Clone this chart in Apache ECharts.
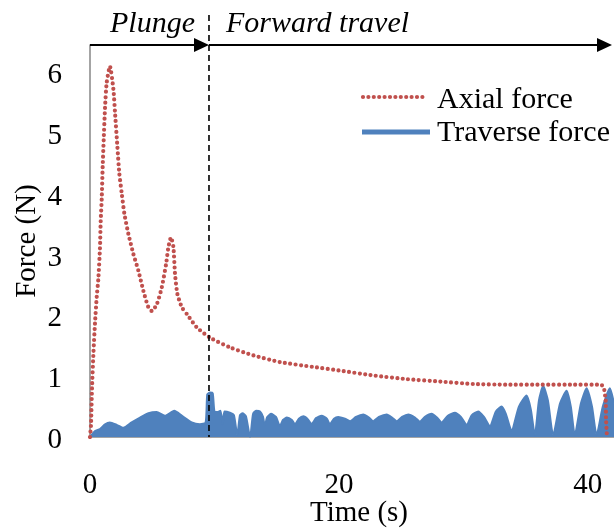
<!DOCTYPE html>
<html>
<head>
<meta charset="utf-8">
<script src="https://cdn.jsdelivr.net/npm/echarts@6/dist/echarts.min.js"></script>
<style>
  html, body { margin: 0; padding: 0; background: #ffffff; }
  #chart { width: 614px; height: 530px; }
</style>
</head>
<body>
<div id="chart"></div>
<script>
// Axial force (N) against time (s)
const axialTime = [0, 0.08, 0.16, 0.28, 0.41, 0.54, 0.67, 0.8, 0.86, 0.94, 1.02, 1.1, 1.21, 1.34, 1.6,
  1.88, 2.01, 2.2, 2.35, 2.55, 2.76, 3.08, 3.48, 3.89, 4.29, 4.69, 4.96, 5.37, 5.77, 6.12, 6.3, 6.51,
  6.7, 6.83, 7.02, 7.38, 7.78, 8.58, 9.66, 11.26, 13.14, 15.28, 17.96, 20.11, 22.79, 25.48, 28.16,
  30.84, 33.53, 36.2, 38.88, 41.03, 41.27, 41.43, 41.46, 41.52];
const axialForce = [0, 0.2, 0.8, 1.4, 1.9, 2.3, 2.6, 3.1, 3.55, 3.9, 4.45, 4.88, 5.42, 5.82, 6.09,
  5.71, 5.33, 4.77, 4.34, 4.0, 3.67, 3.34, 3.01, 2.73, 2.4, 2.13, 2.07, 2.18, 2.46, 2.85, 3.12, 3.28,
  3.12, 2.68, 2.35, 2.13, 2.02, 1.8, 1.63, 1.47, 1.34, 1.23, 1.15, 1.09, 1.01, 0.95, 0.91,
  0.87, 0.86, 0.86, 0.86, 0.86, 0.82, 0.6, 0.3, 0.05];

// Traverse force (N) against time (s)
const traverseTime = [0, 0.41, 0.8, 1.21, 1.6, 2.15, 2.68, 3.35, 4.02, 4.69, 5.35, 6.02, 6.77, 7.37,
  8.17, 8.83, 9.29, 9.42, 9.64, 9.86, 10.0, 10.28, 10.48, 10.66, 10.8, 11.24, 11.56, 11.83, 12.05,
  12.25, 12.53, 12.86, 13.1, 13.34, 13.66, 13.9, 14.05, 14.22, 14.54, 14.94, 15.26, 15.5, 15.82,
  16.22, 16.47, 16.78, 17.14, 17.51, 17.8, 18.16, 18.61, 19.03, 19.27, 19.6, 19.94, 20.48, 20.89,
  21.37, 21.95, 22.41, 22.75, 23.21, 23.84, 24.26, 24.64, 25.07, 25.57, 26.11, 26.5, 26.91, 27.45,
  27.88, 28.25, 28.75, 29.32, 29.8, 30.26, 30.68, 31.19, 31.65, 32.13, 32.61, 33.07, 33.41, 33.87,
  34.46, 35.08, 35.42, 35.74, 36.07, 36.41, 36.79, 37.21, 37.76, 38.29, 38.63, 38.95, 39.44, 39.9,
  40.33, 40.7, 41.2, 41.77, 42.1];
const traverseForce = [0, 0.1, 0.13, 0.21, 0.24, 0.2, 0.15, 0.24, 0.32, 0.39, 0.41, 0.35, 0.43, 0.35,
  0.24, 0.21, 0.24, 0.7, 0.73, 0.72, 0.42, 0.41, 0.43, 0.21, 0.42, 0.4, 0.36, 0.03, 0.36,
  0.39, 0.34, 0.0, 0.38, 0.43, 0.42, 0.33, 0.18, 0.32, 0.38, 0.33, 0.18, 0.28, 0.32,
  0.28, 0.21, 0.3, 0.34, 0.29, 0.21, 0.31, 0.35, 0.3, 0.21, 0.3, 0.33, 0.3, 0.26,
  0.33, 0.37, 0.32, 0.26, 0.33, 0.37, 0.32, 0.26, 0.33, 0.37, 0.32, 0.25, 0.33, 0.38,
  0.32, 0.24, 0.35, 0.4, 0.33, 0.2, 0.36, 0.42, 0.33, 0.18, 0.42, 0.5, 0.38, 0.1,
  0.5, 0.68, 0.45, 0.03, 0.6, 0.84, 0.6, 0.03, 0.55, 0.76, 0.5, 0.03, 0.55, 0.8,
  0.5, 0.03, 0.5, 0.8, 0.55];

const seriesNames = ['Axial force', 'Traverse force'];
const phaseNames = ['Plunge', 'Forward travel'];
const plungeEnd = 9.56;          // end of the plunge phase (s)
const xMin = 0, xMax = 42.1, xStep = 20;
const yMin = 0, yMax = 6.44, yStep = 1;

const RED = '#C0504D';
const BLUE = '#4F81BD';
const FONT = "'Liberation Serif', 'Times New Roman', serif";

const pairs = (xs, ys) => xs.map((x, i) => [x, ys[i]]);

const chart = echarts.init(document.getElementById('chart'), null, { renderer: 'canvas' });

chart.setOption({
  animation: false,
  backgroundColor: '#ffffff',
  grid: { left: 90, right: 0, top: 45, bottom: 93, outerBoundsMode: 'none', containLabel: false },
  xAxis: {
    type: 'value', min: xMin, max: xMax, interval: xStep,
    name: 'Time (s)', nameLocation: 'middle', nameGap: 62, nameMoveOverlap: false,
    nameTextStyle: { fontFamily: FONT, fontSize: 29, color: '#000', padding: [0, 0, 0, 14] },
    axisLine: { show: true, lineStyle: { color: '#868686', width: 1.5 } },
    axisTick: { show: false },
    splitLine: { show: false },
    axisLabel: { fontFamily: FONT, fontSize: 29, color: '#000', margin: 34, showMaxLabel: false }
  },
  yAxis: {
    type: 'value', min: yMin, max: yMax, interval: yStep,
    name: 'Force (N)', nameLocation: 'middle', nameGap: 48, nameMoveOverlap: false,
    nameTextStyle: { fontFamily: FONT, fontSize: 29, color: '#000' },
    axisLine: { show: true, lineStyle: { color: '#868686', width: 1.5 } },
    axisTick: { show: false },
    splitLine: { show: false },
    axisLabel: { fontFamily: FONT, fontSize: 29, color: '#000', margin: 28, showMaxLabel: false,
                 verticalAlign: 'top', lineHeight: 7 }
  },
  series: [
    {
      name: seriesNames[1], type: 'line', data: pairs(traverseTime, traverseForce),
      showSymbol: false, symbol: 'none', smooth: 0.2, z: 2,
      lineStyle: { color: BLUE, width: 2 },
      areaStyle: { color: BLUE, opacity: 1 }
    },
    {
      name: seriesNames[0], type: 'line', data: pairs(axialTime, axialForce),
      showSymbol: false, symbol: 'none', smooth: 0.2, z: 3,
      lineStyle: { color: RED, width: 4.2, type: [0, 5.4], cap: 'round' }
    }
  ]
});

// Phase arrows, phase divider and legend placed from the axis scales
const px = v => chart.convertToPixel({ xAxisIndex: 0 }, v);
const py = v => chart.convertToPixel({ yAxisIndex: 0 }, v);
const x0 = px(xMin), xp = px(plungeEnd), xe = px(xMax) - 2;
const yTop = py(yMax), yBase = py(yMin);
const head = 15, half = 7;

const arrow = (xa, xb) => [
  { type: 'line', shape: { x1: xa, y1: yTop, x2: xb - head + 1, y2: yTop },
    style: { stroke: '#000', lineWidth: 2 }, z: 20 },
  { type: 'polygon', shape: { points: [[xb - head, yTop - half], [xb, yTop], [xb - head, yTop + half]] },
    style: { fill: '#000' }, z: 20 }
];

const ITALIC = "italic 30px 'Liberation Serif', 'Times New Roman', serif";
const PLAIN = "30px 'Liberation Serif', 'Times New Roman', serif";

chart.setOption({
  graphic: [
    ...arrow(x0, xp),
    ...arrow(xp, xe),
    { type: 'line', shape: { x1: xp, y1: 15, x2: xp, y2: yBase },
      style: { stroke: '#000', lineWidth: 1.6, lineDash: [6, 4] }, z: 21 },
    { type: 'text', x: xp - 14, y: 24,
      style: { text: phaseNames[0], font: ITALIC, fill: '#000', align: 'right', verticalAlign: 'middle' }, z: 20 },
    { type: 'text', x: xp + 17, y: 24,
      style: { text: phaseNames[1], font: ITALIC, fill: '#000', align: 'left', verticalAlign: 'middle' }, z: 20 },
    { type: 'line', shape: { x1: 363, y1: 97, x2: 424, y2: 97 },
      style: { stroke: RED, lineWidth: 4.2, lineDash: [0, 5.4], lineCap: 'round' }, z: 20 },
    { type: 'text', x: 437, y: 100,
      style: { text: seriesNames[0], font: PLAIN, fill: '#000', align: 'left', verticalAlign: 'middle' }, z: 20 },
    { type: 'line', shape: { x1: 362, y1: 132, x2: 430, y2: 132 },
      style: { stroke: BLUE, lineWidth: 5 }, z: 20 },
    { type: 'text', x: 437, y: 133,
      style: { text: seriesNames[1], font: PLAIN, fill: '#000', align: 'left', verticalAlign: 'middle' }, z: 20 }
  ]
});
</script>
</body>
</html>
